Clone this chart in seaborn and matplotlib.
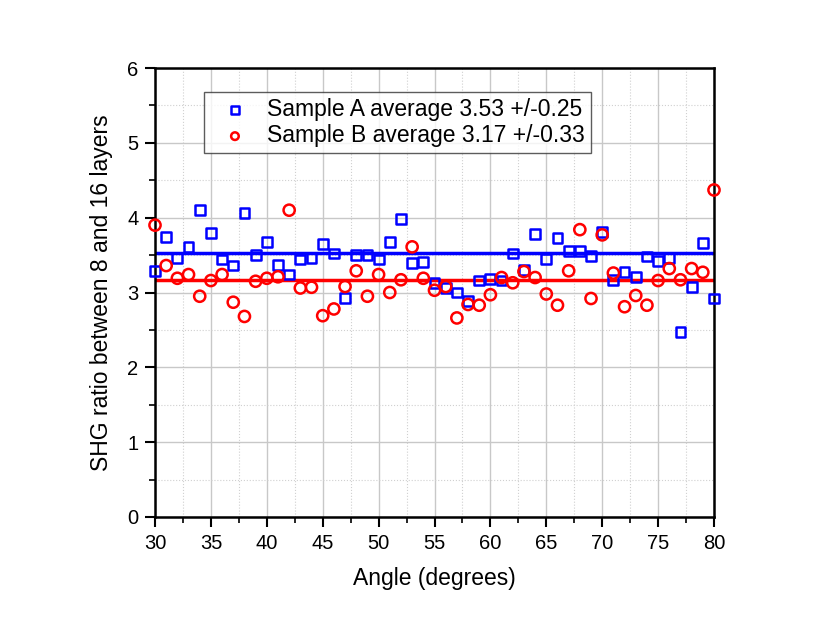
import numpy as np
import pandas as pd
import matplotlib
matplotlib.use("Agg")
import matplotlib.pyplot as plt
import seaborn as sns
from matplotlib.ticker import MultipleLocator

angles = list(range(30, 81))
sample_a = [3.29, 3.74, 3.46, 3.61, 4.10, 3.80, 3.44, 3.36, 4.06, 3.50,
            3.68, 3.37, 3.24, 3.44, 3.46, 3.65, 3.52, 2.93, 3.50, 3.50,
            3.44, 3.68, 3.98, 3.39, 3.41, 3.13, 3.06, 3.00, 2.89, 3.16,
            3.18, 3.16, 3.52, 3.30, 3.78, 3.45, 3.73, 3.56, 3.55, 3.49,
            3.81, 3.17, 3.27, 3.21, 3.48, 3.42, 3.46, 2.47, 3.07, 3.66,
            2.92]
sample_b = [3.90, 3.36, 3.19, 3.24, 2.95, 3.16, 3.24, 2.87, 2.68, 3.15,
            3.19, 3.21, 4.10, 3.06, 3.07, 2.69, 2.78, 3.08, 3.29, 2.95,
            3.24, 3.00, 3.17, 3.61, 3.19, 3.03, 3.08, 2.66, 2.84, 2.83,
            2.97, 3.20, 3.13, 3.28, 3.20, 2.98, 2.83, 3.29, 3.84, 2.92,
            3.77, 3.26, 2.81, 2.96, 2.83, 3.16, 3.32, 3.17, 3.32, 3.27,
            4.37]
avg_a = 3.53
avg_b = 3.17
labels = ["Sample A average 3.53 +/-0.25", "Sample B average 3.17 +/-0.33"]

sns.set_style("white")
plt.rcParams['font.family'] = ['Liberation Sans', 'DejaVu Sans']
plt.rcParams['text.color'] = 'black'
plt.rcParams['axes.labelcolor'] = 'black'
plt.rcParams['xtick.color'] = 'black'
plt.rcParams['ytick.color'] = 'black'

fig = plt.figure(figsize=(8.13, 6.22), dpi=100)
ax = fig.add_axes([155/813, 1 - 517/622, (714 - 155)/813, (517 - 68)/622])

df = pd.DataFrame({"angle": angles, "A": sample_a, "B": sample_b})

ax.axhline(avg_a, color="#0000ff", lw=2.5, zorder=2)
ax.axhline(avg_b, color="#ff0000", lw=2.5, zorder=2)

sns.scatterplot(data=df, x="angle", y="A", ax=ax, marker="s", s=50,
                facecolor="none", edgecolor="#0000ff", linewidth=1.8,
                label=labels[0], zorder=3, clip_on=False)
sns.scatterplot(data=df, x="angle", y="B", ax=ax, marker="o", s=65,
                facecolor="none", edgecolor="#ff0000", linewidth=1.8,
                label=labels[1], zorder=3, clip_on=False)

ax.set_xlim(30, 80)
ax.set_ylim(0, 6)
ax.xaxis.set_major_locator(MultipleLocator(5))
ax.xaxis.set_minor_locator(MultipleLocator(2.5))
ax.yaxis.set_major_locator(MultipleLocator(1))
ax.yaxis.set_minor_locator(MultipleLocator(0.5))

ax.grid(True, which="major", color="#c8c8c8", lw=1.0, ls="-")
ax.grid(True, which="minor", color="#d0d0d0", lw=0.8, ls=":")
ax.set_axisbelow(True)

for sp in ax.spines.values():
    sp.set_visible(True)
    sp.set_color("black")
    sp.set_linewidth(1.8)

ax.tick_params(which="major", direction="out", length=7, width=1.5,
               labelsize=14.5, color="black", bottom=True, left=True,
               top=False, right=False, pad=5)
ax.tick_params(which="minor", direction="out", length=4, width=1.2,
               color="black", bottom=True, left=True, top=False, right=False)

ax.set_xlabel("Angle (degrees)", fontsize=16.5, labelpad=10)
ax.set_ylabel("SHG ratio between 8 and 16 layers", fontsize=16.5, labelpad=10)

leg = ax.legend(loc="upper left", bbox_to_anchor=((204 - 155)/559, 1 - (92 - 68)/449),
                fontsize=16.5, frameon=True, fancybox=False, edgecolor="#333333",
                borderpad=0.25, labelspacing=0.15, handletextpad=0.3,
                handlelength=2.2, borderaxespad=0)
leg.get_frame().set_linewidth(1.0)
for t in leg.get_texts():
    t.set_color("black")
for h in leg.legend_handles:
    h.set_sizes([30])

fig.savefig("out.png", dpi=100, facecolor="white")
